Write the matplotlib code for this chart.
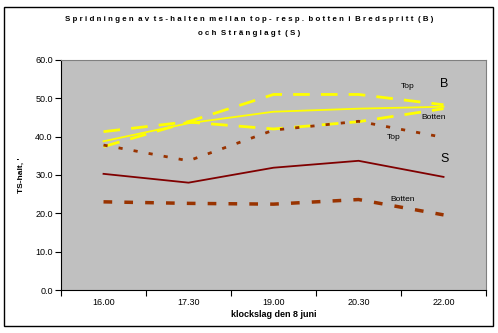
import matplotlib
matplotlib.use("Agg")
from matplotlib import pyplot as plt
from matplotlib.patches import Rectangle

plt.rcParams['font.family'] = ['Liberation Sans', 'DejaVu Sans']

times = ['16.00', '17.30', '19.00', '20.30', '22.00']
b_top = [41.3, 43.9, 51.0, 51.0, 48.3]
b_mean = [38.8, 43.5, 46.5, 47.3, 47.8]
b_botten = [37.4, 43.8, 42.0, 43.9, 47.3]
s_top = [37.8, 33.7, 41.7, 44.0, 39.8]
s_mean = [30.3, 28.0, 31.9, 33.7, 29.5]
s_botten = [23.0, 22.6, 22.4, 23.6, 19.6]

yellow = '#FFFF00'
maroon = '#800000'
brown = '#993300'

fig = plt.figure(figsize=(4.98, 3.33), dpi=100)
ax = fig.add_axes([0.1225, 0.129, 0.8535, 0.691])
ax.set_facecolor('#C0C0C0')

x = range(len(times))
ax.plot(x, b_top, color=yellow, lw=2, dashes=(6, 4))
ax.plot(x, b_botten, color=yellow, lw=2, dashes=(6, 4))
ax.plot(x, b_mean, color=yellow, lw=1.3)
ax.plot(x, s_top, color=brown, lw=2, dashes=(1.5, 4))
ax.plot(x, s_mean, color=maroon, lw=1.3)
ax.plot(x, s_botten, color=brown, lw=2.5, dashes=(2.5, 3.5))

ax.set_xlim(-0.5, 4.5)
ax.set_ylim(0, 60)
ax.set_yticks(range(0, 61, 10))
ax.set_yticklabels([f'{v:.1f}' for v in range(0, 61, 10)], fontsize=6.5)
ax.set_xticks([i - 0.5 for i in range(6)])
ax.set_xticklabels([])
ax.set_xticks(list(x), minor=True)
ax.set_xticklabels(times, minor=True, fontsize=6.5)
ax.tick_params(axis='x', which='minor', length=0, pad=6)
ax.tick_params(axis='x', which='major', length=4, direction='out')
ax.tick_params(axis='y', length=4, direction='out', pad=2)
for s in ['top', 'right']:
    ax.spines[s].set_color('#808080')
    ax.spines[s].set_linewidth(0.8)

ax.set_xlabel('klockslag den 8 juni', fontsize=6.5, fontweight='bold', labelpad=2)
ax.set_ylabel("TS-halt, '", fontsize=6, fontweight='bold', labelpad=7)

ax.text(3.58, 53.0, 'Top', fontsize=6, ha='center', va='center')
ax.text(4.01, 53.6, 'B', fontsize=9, ha='center', va='center')
ax.text(3.88, 45.1, 'Botten', fontsize=6, ha='center', va='center')
ax.text(3.41, 39.7, 'Top', fontsize=6, ha='center', va='center')
ax.text(4.01, 34.3, 'S', fontsize=9, ha='center', va='center')
ax.text(3.52, 23.5, 'Botten', fontsize=6, ha='center', va='center')

fig.text(0.5, 0.942, 'S p r i d n i n g e n  a v  t s - h a l t e n  m e l l a n  t o p -  r e s p .  b o t t e n  i  B r e d s p r i t t  ( B )',
         ha='center', va='center', fontsize=5.7, fontweight='bold')
fig.text(0.5, 0.9, 'o c h  S t r ä n g l a g t  ( S )', ha='center', va='center', fontsize=5.7, fontweight='bold')

fig.patches.append(Rectangle((0.008, 0.022), 0.982, 0.958, transform=fig.transFigure,
                             fill=False, edgecolor='black', lw=1))

fig.savefig('out.png', dpi=100)
